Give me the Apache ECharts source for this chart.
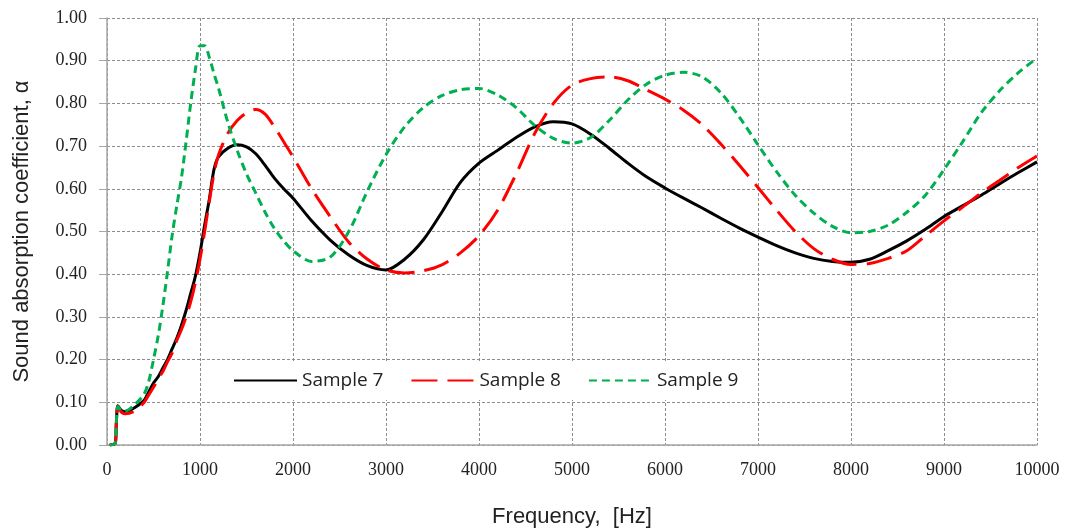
<!DOCTYPE html>
<html>
<head>
<meta charset="utf-8">
<script src="https://cdn.jsdelivr.net/npm/echarts@6/dist/echarts.min.js"></script>
<style>
  html, body { margin: 0; padding: 0; background: #fff; }
  #chart { width: 1070px; height: 530px; }
</style>
</head>
<body>
<div id="chart"></div>
<script>
// frequency points (Hz), shared by the three samples
const freq = [30, 90, 100, 115, 130, 160, 200, 300, 400, 450,
  500, 550, 600, 650, 700, 750, 800, 850, 900, 950, 1000, 1050, 1100, 1150, 1200,
  1300, 1400, 1500, 1600, 1700, 1800, 1900, 2000,
  2200, 2400, 2600, 2800, 3000, 3200, 3400, 3600, 3800, 4000,
  4200, 4400, 4600, 4800, 5000, 5200, 5400, 5600, 5800, 6000,
  6200, 6400, 6600, 6800, 7000, 7200, 7400, 7600, 7800, 8000,
  8200, 8400, 8600, 8800, 9000, 9200, 9400, 9600, 9800, 10000];

const sample7 = [0, 0.005, 0.05, 0.092, 0.088, 0.08, 0.078, 0.088, 0.105, 0.125,
  0.145, 0.16, 0.18, 0.2, 0.225, 0.25, 0.28, 0.315, 0.355, 0.395, 0.45, 0.515, 0.575, 0.645, 0.675,
  0.695, 0.703, 0.698, 0.682, 0.655, 0.625, 0.6, 0.578,
  0.525, 0.48, 0.445, 0.42, 0.41, 0.435, 0.48, 0.545, 0.615, 0.66,
  0.69, 0.72, 0.745, 0.757, 0.752, 0.728, 0.695, 0.66, 0.628, 0.602,
  0.578, 0.555, 0.531, 0.508, 0.487, 0.467, 0.45, 0.437, 0.43, 0.428,
  0.435, 0.455, 0.478, 0.505, 0.535, 0.56, 0.585, 0.612, 0.638, 0.663];

const sample8 = [0, 0.005, 0.05, 0.09, 0.085, 0.076, 0.073, 0.08, 0.1, 0.118,
  0.135, 0.155, 0.172, 0.195, 0.215, 0.245, 0.27, 0.3, 0.335, 0.38, 0.435, 0.5, 0.57, 0.635, 0.68,
  0.73, 0.76, 0.778, 0.786, 0.775, 0.745, 0.71, 0.675,
  0.6, 0.535, 0.475, 0.435, 0.41, 0.403, 0.408, 0.422, 0.45, 0.49,
  0.55, 0.635, 0.73, 0.8, 0.843, 0.858, 0.862, 0.853, 0.832, 0.81,
  0.784, 0.75, 0.705, 0.655, 0.603, 0.55, 0.5, 0.46, 0.435, 0.423,
  0.425, 0.437, 0.455, 0.49, 0.525, 0.557, 0.59, 0.62, 0.65, 0.677];

const sample9 = [0, 0.005, 0.05, 0.09, 0.087, 0.08, 0.08, 0.095, 0.12, 0.15,
  0.2, 0.255, 0.325, 0.405, 0.49, 0.56, 0.625, 0.71, 0.8, 0.878, 0.935, 0.935, 0.908, 0.87, 0.835,
  0.755, 0.69, 0.635, 0.59, 0.545, 0.507, 0.478, 0.455,
  0.43, 0.44, 0.5, 0.595, 0.68, 0.745, 0.79, 0.818, 0.832, 0.835,
  0.82, 0.79, 0.748, 0.718, 0.707, 0.72, 0.76, 0.808, 0.845, 0.866,
  0.873, 0.862, 0.825, 0.768, 0.703, 0.64, 0.585, 0.543, 0.512, 0.497,
  0.5, 0.515, 0.545, 0.585, 0.645, 0.71, 0.778, 0.83, 0.872, 0.906];

const seriesNames = ['Sample 7', 'Sample 8', 'Sample 9'];

const pairs = vals => freq.map((f, i) => [f, vals[i]]);

const chart = echarts.init(document.getElementById('chart'));

const gridLine = { show: true, lineStyle: { color: '#8c8c8c', type: [3, 2], width: 1 } };

const lineSeries = (name, vals, color, dash) => ({
  name: name,
  type: 'line',
  data: pairs(vals),
  smooth: 0.3,
  symbol: 'none',
  lineStyle: { color: color, width: 3, type: dash },
  itemStyle: { color: color },
  z: 3
});

chart.setOption({
  animation: false,
  backgroundColor: '#fff',
  grid: { left: 107, right: 33, top: 18, bottom: 85, outerBoundsMode: 'none' },
  legend: {
    data: seriesNames,
    left: 225,
    top: 361,
    padding: [10, 16, 10, 8],
    backgroundColor: '#fff',
    itemWidth: 63,
    itemHeight: 20,
    itemGap: 27,
    itemStyle: { opacity: 0 },
    textStyle: { fontFamily: 'Open Sans', fontSize: 19, color: '#222' },
    z: 10
  },
  xAxis: {
    type: 'value',
    min: 0,
    max: 10000,
    interval: 1000,
    name: 'Frequency,  [Hz]',
    nameLocation: 'middle',
    nameGap: 61,
    nameTextStyle: { fontFamily: 'Liberation Sans', fontSize: 22, color: '#222' },
    axisLine: { show: true, onZero: false, lineStyle: { color: '#a6a6a6', width: 1.5 } },
    axisTick: { show: false },
    axisLabel: {
      margin: 16,
      fontFamily: 'Liberation Serif',
      fontSize: 18,
      color: '#222',
      formatter: v => String(v)
    },
    splitLine: gridLine
  },
  yAxis: {
    type: 'value',
    min: 0,
    max: 1,
    interval: 0.1,
    name: 'Sound absorption coefficient, α',
    nameLocation: 'middle',
    nameGap: 74,
    nameTextStyle: { fontFamily: 'Liberation Sans', fontSize: 22, color: '#222' },
    axisLine: { show: true, lineStyle: { color: '#a6a6a6', width: 1.5 } },
    axisTick: { show: true, length: 8, lineStyle: { color: '#a6a6a6' } },
    axisLabel: {
      margin: 20,
      fontFamily: 'Liberation Serif',
      fontSize: 18,
      color: '#222',
      formatter: v => v.toFixed(2)
    },
    splitLine: gridLine
  },
  series: [
    lineSeries(seriesNames[0], sample7, '#000000', 'solid'),
    lineSeries(seriesNames[1], sample8, '#ff0000', [26, 10]),
    lineSeries(seriesNames[2], sample9, '#00b050', [8, 5])
  ]
});
</script>
</body>
</html>
